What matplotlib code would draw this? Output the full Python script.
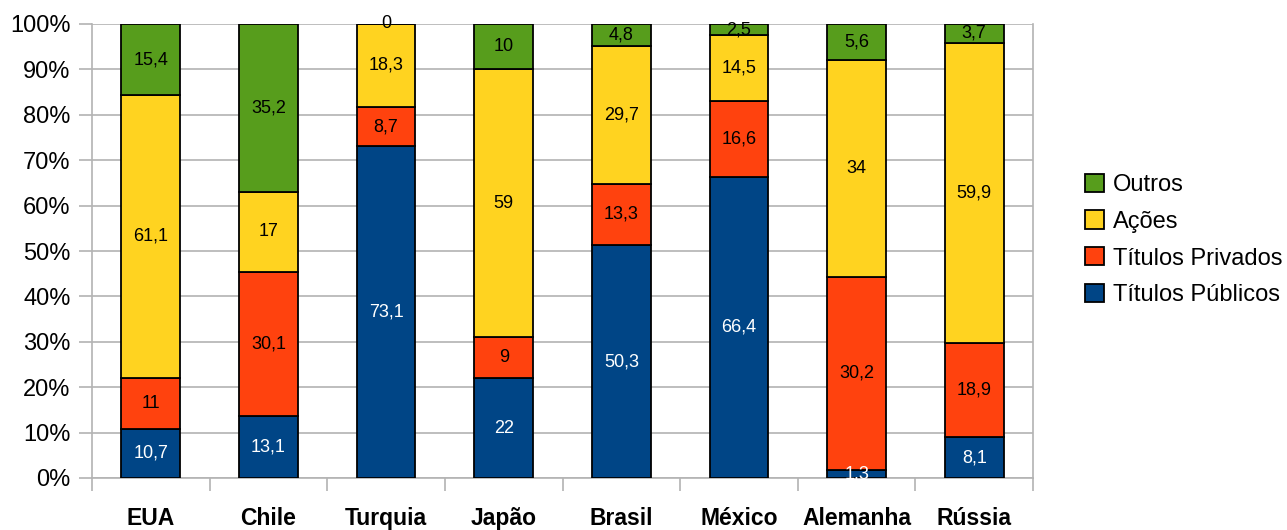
import numpy as np
import matplotlib
matplotlib.use("Agg")
import matplotlib.pyplot as plt
from matplotlib.ticker import FixedLocator, PercentFormatter

plt.rcParams['font.family'] = ['Liberation Sans', 'DejaVu Sans']

countries = ["EUA", "Chile", "Turquia", "Japão", "Brasil", "México", "Alemanha", "Rússia"]
publicos = [10.7, 13.1, 73.1, 22, 50.3, 66.4, 1.3, 8.1]
privados = [11, 30.1, 8.7, 9, 13.3, 16.6, 30.2, 18.9]
acoes = [61.1, 17, 18.3, 59, 29.7, 14.5, 34, 59.9]
outros = [15.4, 35.2, 0, 10, 4.8, 2.5, 5.6, 3.7]

series = [
    ("Títulos Públicos", publicos, "#004586", "white"),
    ("Títulos Privados", privados, "#ff420e", "black"),
    ("Ações", acoes, "#ffd320", "black"),
    ("Outros", outros, "#579d1c", "black"),
]

# each country's bar is scaled to 100%
raw = np.array([s[1] for s in series], dtype=float)
totals = raw.sum(axis=0)
shares = raw / totals * 100

fig = plt.figure(figsize=(12.87, 5.30), dpi=100)
ax = fig.add_axes([92 / 1287, 52 / 530, 941 / 1287, 454 / 530])

x = np.arange(len(countries))
bottom = np.zeros(len(countries))
for (name, vals, color, tcolor), share in zip(series, shares):
    ax.bar(x, share, 0.5, bottom=bottom, color=color, edgecolor="black",
           linewidth=1.3, label=name, zorder=3)
    for xi, b, h, v in zip(x, bottom, share, vals):
        txt = f"{v:g}".replace(".", ",")
        ax.text(xi, b + h / 2, txt, ha="center", va="center",
                fontsize=13, color=tcolor, zorder=4)
    bottom += share

ax.set_xlim(-0.5, len(countries) - 0.5)
ax.set_ylim(0, 100)
ax.yaxis.set_major_locator(FixedLocator(np.arange(0, 101, 10)))
ax.yaxis.set_major_formatter(PercentFormatter(decimals=0))
ax.set_xticks(x)
ax.set_xticklabels(countries, fontsize=16.5, fontweight="bold")
ax.set_xticks(np.arange(-0.5, len(countries)), minor=True)
ax.tick_params(axis="x", which="major", length=0, pad=21)
ax.tick_params(axis="x", which="minor", length=9, width=1.2, color="#b3b3b3")
ax.tick_params(axis="y", length=9.5, width=1.2, color="#b3b3b3",
               labelsize=17, pad=6)
ax.grid(axis="y", color="#b3b3b3", linewidth=1.2, zorder=0)
for sp in ax.spines.values():
    sp.set_color("#b3b3b3")
    sp.set_linewidth(1.2)
ax.spines["top"].set_visible(False)

handles, labels = ax.get_legend_handles_labels()
leg = fig.legend(handles[::-1], labels[::-1], loc="center left",
                 bbox_to_anchor=(1076 / 1287, 1 - 240 / 530),
                 fontsize=17, frameon=False, handlelength=0.8,
                 handleheight=0.8, handletextpad=0.35, labelspacing=0.62,
                 borderaxespad=0)

fig.savefig("out.png", dpi=100)
